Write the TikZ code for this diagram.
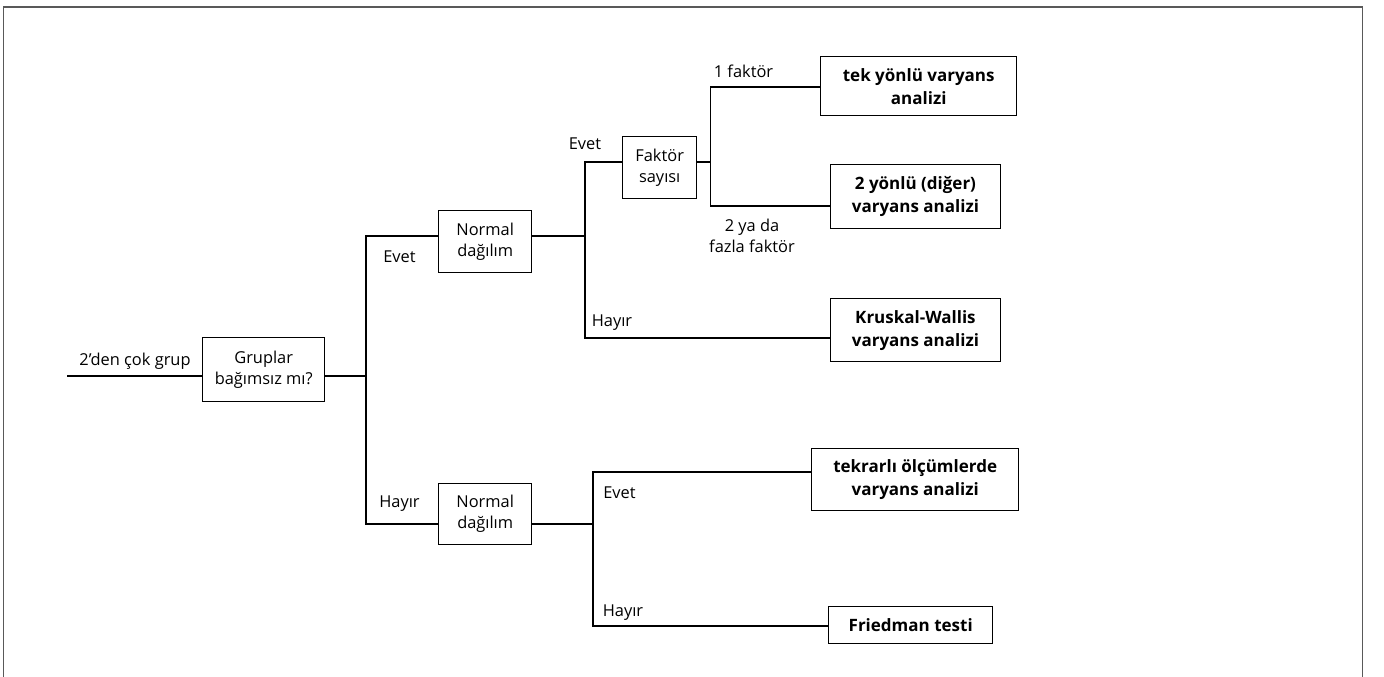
\documentclass[tikz,border=0pt]{standalone}
\usepackage{fontspec}
\setmainfont{Open Sans}
\begin{document}
\begin{tikzpicture}[x=1pt,y=-1pt,
  every node/.style={font=\fontsize{16.4}{21}\selectfont, inner sep=0pt},
  box/.style={draw=black, line width=1.4pt, align=center, anchor=north west},
  res/.style={box, font=\fontsize{17}{23}\selectfont\bfseries},
  lbl/.style={align=center},
  wire/.style={line width=1.4pt, black}]
\useasboundingbox (0,0) rectangle (1384,677);
% outer frame (bottom edge falls below the page)
\draw[line width=1.3pt, black!65] (3.5,700) -- (3.5,7) -- (1362.5,7) -- (1362.5,700);

% decision boxes
\node[box, minimum width=122pt, minimum height=64pt] (grp) at (202,337) {Gruplar\\bağımsız mı?};
\node[box, minimum width=93pt, minimum height=62pt] (nd1) at (438,210) {Normal\\dağılım};
\node[box, minimum width=93pt, minimum height=61pt] (nd2) at (438,483) {Normal\\dağılım};
\node[box, minimum width=74pt, minimum height=62pt] (fs) at (622,136) {Faktör\\sayısı};

% result boxes
\node[res, minimum width=196pt, minimum height=59pt] (r1) at (820,56) {tek yönlü varyans\\analizi};
\node[res, minimum width=170.5pt, minimum height=64pt] (r2) at (829.5,164) {2 yönlü (diğer)\\varyans analizi};
\node[res, minimum width=170.5pt, minimum height=63pt] (r3) at (829.5,298) {Kruskal-Wallis\\varyans analizi};
\node[res, minimum width=207pt, minimum height=62pt] (r4) at (811,448) {tekrarlı ölçümlerde\\varyans analizi};
\node[res, minimum width=164pt, minimum height=37pt] (r5) at (828,606) {Friedman testi};

% junction points
\coordinate (start) at (67,376);
\coordinate (ja) at (366,376);
\coordinate (jb) at (585,236);
\coordinate (jc) at (710.5,162);
\coordinate (jd) at (593,524);

% wires
\draw[wire] (start) -- (grp.west |- start);
\draw[wire] (grp.east |- ja) -- (ja);
\draw[wire] (nd1.west |- jb) -| (ja) |- (nd2.west |- jd);
\draw[wire] (nd1.east |- jb) -- (jb);
\draw[wire] (fs.west |- jc) -| (jb) |- (r3.west |- 0,338);
\draw[wire] (fs.east |- jc) -- (jc);
\draw[wire] (r1.west |- 0,87) -| (jc) |- (r2.west |- 0,206);
\draw[wire] (nd2.east |- jd) -- (jd);
\draw[wire] (r4.west |- 0,472) -| (jd) |- (r5.west |- 0,626);

% branch labels
\node[lbl] (l0) at (135,361) {2’den çok grup};
\node[lbl] (l1) at (399.5,257) {Evet};
\node[lbl] (l2) at (399.5,504) {Hayır};
\node[lbl] (l3) at (585,144) {Evet};
\node[lbl] (l4) at (612,323) {Hayır};
\node[lbl] (l5) at (743.5,71) {1 faktör};
\node[lbl] (l6) at (752,236) {2 ya da\\fazla faktör};
\node[lbl] (l7) at (619.5,493) {Evet};
\node[lbl] (l8) at (623,613) {Hayır};
\end{tikzpicture}
\end{document}
